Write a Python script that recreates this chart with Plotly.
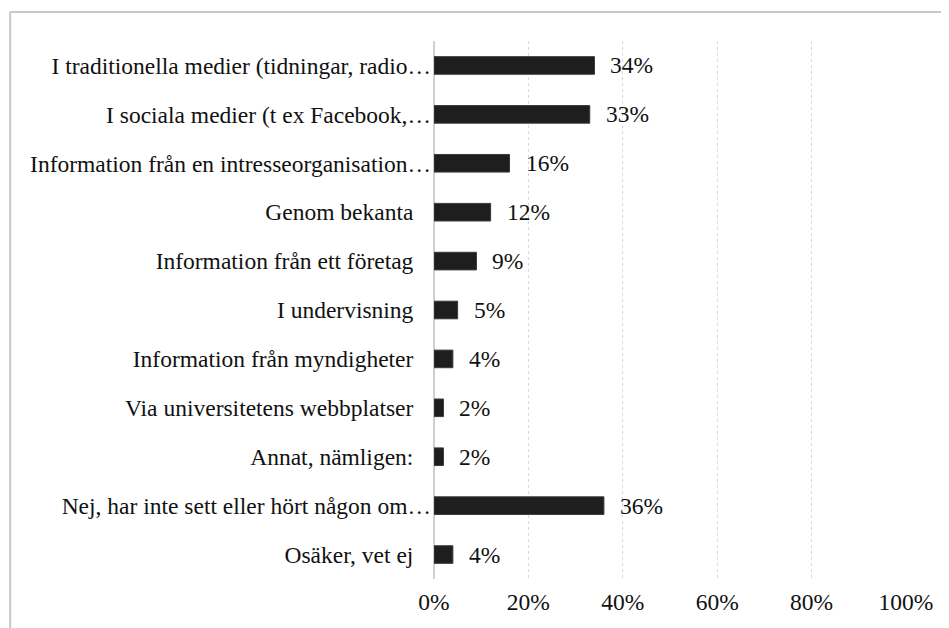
import plotly.graph_objects as go

# Survey answers (Swedish) and share of respondents
categories = [
    "I traditionella medier (tidningar, radio…",
    "I sociala medier (t ex Facebook,…",
    "Information från en intresseorganisation…",
    "Genom bekanta",
    "Information från ett företag",
    "I undervisning",
    "Information från myndigheter",
    "Via universitetens webbplatser",
    "Annat, nämligen:",
    "Nej, har inte sett eller hört någon om…",
    "Osäker, vet ej",
]
shares = [0.34, 0.33, 0.16, 0.12, 0.09, 0.05, 0.04, 0.02, 0.02, 0.36, 0.04]
x_ticks = [0, 0.2, 0.4, 0.6, 0.8, 1.0]

FONT = "Liberation Serif, Times New Roman, serif"
FSIZE = 23.5
BORDER = "#c8c8c8"

# truncated labels run right up to the axis, the others keep a gap
tick_text = [c if c.endswith("…") else c + "\u00a0" * 3 for c in categories]

fig = go.Figure()
fig.add_trace(go.Bar(
    x=shares,
    y=categories,
    orientation="h",
    marker=dict(color="#1e1e1e", line=dict(color="#3a3a3a", width=1)),
    hoverinfo="x+y",
))

# value labels to the right of each bar
for cat, val in zip(categories, shares):
    fig.add_annotation(
        x=val, y=cat, text=f"{val:.0%}", showarrow=False,
        xanchor="left", xshift=14, font=dict(family=FONT, size=FSIZE, color="#111"),
    )

# light frame along the top and left edge of the picture
fig.add_shape(type="line", xref="paper", yref="paper",
              x0=-0.898, y0=1.054, x1=1.2, y1=1.054,
              line=dict(color=BORDER, width=2))
fig.add_shape(type="line", xref="paper", yref="paper",
              x0=-0.898, y0=1.054, x1=-0.898, y1=-0.2,
              line=dict(color=BORDER, width=2))

# page body adds an 8px margin, so the figure is sized to fit inside it
fig.update_layout(
    width=941, height=620,
    margin=dict(l=426, r=43, t=33, b=49),
    paper_bgcolor="white", plot_bgcolor="white",
    font=dict(family=FONT, size=FSIZE, color="#111"),
    bargap=0.64,
    showlegend=False,
)
fig.update_xaxes(
    range=[0, 1], tickvals=x_ticks, tickformat=".0%",
    showgrid=True, gridcolor="#d9d9d9", griddash="3px,3px", gridwidth=1,
    zeroline=True, zerolinecolor="#d0d0d0", zerolinewidth=2,
    showline=False, ticks="", ticklabelstandoff=6,
)
fig.update_yaxes(
    autorange="reversed", tickvals=categories, ticktext=tick_text,
    showgrid=False, showline=False, ticks="", ticklabelstandoff=2,
)

fig.write_html("out.html")
